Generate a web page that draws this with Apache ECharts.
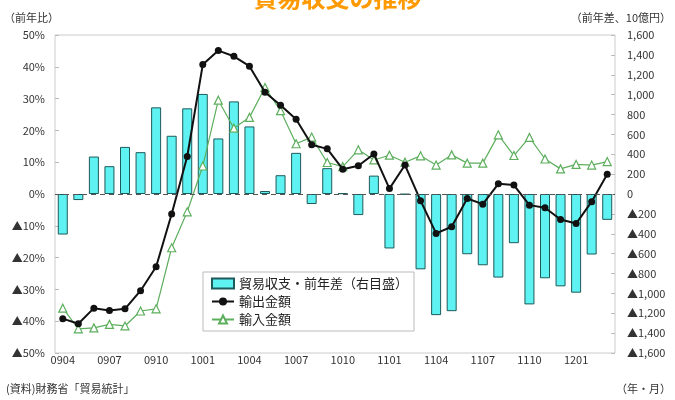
<!DOCTYPE html>
<html>
<head>
<meta charset="utf-8">
<script src="https://cdn.jsdelivr.net/npm/echarts@6/dist/echarts.min.js"></script>
<style>
  html, body { margin: 0; padding: 0; background: #fff; }
  #chart { width: 675px; height: 400px; }
</style>
</head>
<body>
<div id="chart"></div>
<script>
// Monthly categories (YYMM), April 2009 - March 2012
var months = ['0904','0905','0906','0907','0908','0909','0910','0911','0912',
  '1001','1002','1003','1004','1005','1006','1007','1008','1009','1010','1011','1012',
  '1101','1102','1103','1104','1105','1106','1107','1108','1109','1110','1111','1112',
  '1201','1202','1203'];

// Trade balance, year-on-year difference (billion yen, right axis)
var balanceDiff = [-408, -61, 377, 280, 474, 421, 872, 586, 862,
  1007, 559, 932, 680, 30, 189, 414, -101, 260, 8, -212, 185,
  -548, -5, -758, -1219, -1179, -606, -717, -841, -495, -1111, -848, -929,
  -993, -609, -260];

// Exports, year-on-year change (%)
var exportsYoY = [-39.2, -40.8, -35.9, -36.6, -36.1, -30.4, -22.9, -6.3, 11.8,
  40.7, 45.1, 43.3, 40.2, 32.0, 27.9, 23.5, 15.5, 14.2, 7.8, 8.9, 12.6,
  1.7, 9.1, -2.1, -12.4, -10.3, -1.4, -3.2, 3.2, 2.8, -3.5, -4.3, -8.0,
  -9.3, -2.4, 6.2];

// Imports, year-on-year change (%)
var importsYoY = [-35.9, -42.4, -42.1, -41.0, -41.5, -36.8, -36.1, -16.9, -5.6,
  8.8, 29.5, 20.7, 24.1, 33.5, 26.2, 15.8, 17.9, 9.9, 8.6, 13.9, 10.7,
  12.2, 10.0, 12.0, 9.1, 12.3, 9.7, 9.7, 18.6, 12.1, 17.8, 11.0, 7.9,
  9.3, 9.1, 10.2];

var FONT = '"Noto Sans CJK JP", "Noto Sans", sans-serif';

function pctLabel(v) {
  return v < 0 ? '\u25B2' + (-v) + '%' : v + '%';
}
function yenLabel(v) {
  var s = Math.abs(v).toString().replace(/\B(?=(\d{3})+(?!\d))/g, ',');
  return v < 0 ? '\u25B2' + s : s;
}

var chart = echarts.init(document.getElementById('chart'), null, { renderer: 'canvas' });

chart.setOption({
  backgroundColor: '#ffffff',
  animation: false,
  textStyle: { fontFamily: FONT },
  title: {
    text: '貿易収支の推移',
    left: 'center',
    top: -19,
    textStyle: { color: '#FF9900', fontSize: 24, fontWeight: 'bold', fontFamily: FONT }
  },
  graphic: [
    { type: 'text', left: 4, top: 12, style: { text: '（前年比）', fill: '#333', font: '11px ' + FONT } },
    { type: 'text', right: 4, top: 12, style: { text: '（前年差、10億円）', fill: '#333', font: '11px ' + FONT } },
    { type: 'text', left: 6, top: 383, style: { text: '(資料)財務省「貿易統計」', fill: '#333', font: '11px ' + FONT } },
    { type: 'text', right: 4, top: 383, style: { text: '（年・月）', fill: '#333', font: '11px ' + FONT } }
  ],
  legend: {
    orient: 'vertical',
    left: 203,
    top: 272,
    padding: [5, 6, 5, 8],
    itemGap: 5,
    itemWidth: 22,
    itemHeight: 10,
    backgroundColor: '#ffffff',
    borderColor: '#bbbbbb',
    borderWidth: 1,
    textStyle: { fontSize: 13, color: '#222', fontFamily: FONT },
    data: [
      { name: '貿易収支・前年差（右目盛）', icon: 'rect' },
      { name: '輸出金額' },
      { name: '輸入金額' }
    ]
  },
  grid: {
    left: 55, right: 60, top: 35, bottom: 47,
    show: true,
    borderColor: '#cccccc',
    borderWidth: 1,
    containLabel: false
  },
  xAxis: {
    type: 'category',
    data: months,
    boundaryGap: true,
    axisLine: { show: false },
    axisTick: { show: false },
    axisLabel: { interval: 2, margin: 1, fontSize: 11, color: '#333', fontFamily: FONT },
    splitLine: { show: false }
  },
  yAxis: [
    {
      type: 'value',
      min: -50, max: 50, interval: 10,
      axisLine: { show: false },
      axisTick: { show: true, inside: true, length: 4, lineStyle: { color: '#bbbbbb' } },
      axisLabel: { formatter: pctLabel, fontSize: 11, color: '#333', margin: 10, fontFamily: FONT },
      splitLine: { show: false }
    },
    {
      type: 'value',
      min: -1600, max: 1600, interval: 200,
      position: 'right',
      axisLine: { show: false },
      axisTick: { show: true, inside: true, length: 4, lineStyle: { color: '#bbbbbb' } },
      axisLabel: { formatter: yenLabel, fontSize: 11, color: '#333', margin: 12, fontFamily: FONT },
      splitLine: { show: false }
    }
  ],
  series: [
    {
      name: '貿易収支・前年差（右目盛）',
      type: 'bar',
      yAxisIndex: 1,
      data: balanceDiff,
      barWidth: 10,
      itemStyle: { color: '#5FF2F2', borderColor: '#1E5A5A', borderWidth: 1 },
      markLine: {
        silent: true,
        symbol: 'none',
        label: { show: false },
        lineStyle: { color: '#555555', type: [5, 4], width: 1 },
        data: [{ yAxis: 0 }]
      },
      z: 1
    },
    {
      name: '輸出金額',
      type: 'line',
      yAxisIndex: 0,
      data: exportsYoY,
      symbol: 'circle',
      symbolSize: 7,
      lineStyle: { color: '#111111', width: 2 },
      itemStyle: { color: '#111111' },
      z: 3
    },
    {
      name: '輸入金額',
      type: 'line',
      yAxisIndex: 0,
      data: importsYoY,
      symbol: 'triangle',
      symbolSize: 8,
      lineStyle: { color: '#5DAE5D', width: 1.2 },
      itemStyle: { color: '#ffffff', borderColor: '#5DAE5D', borderWidth: 1.2 },
      z: 2
    }
  ]
});
</script>
</body>
</html>
